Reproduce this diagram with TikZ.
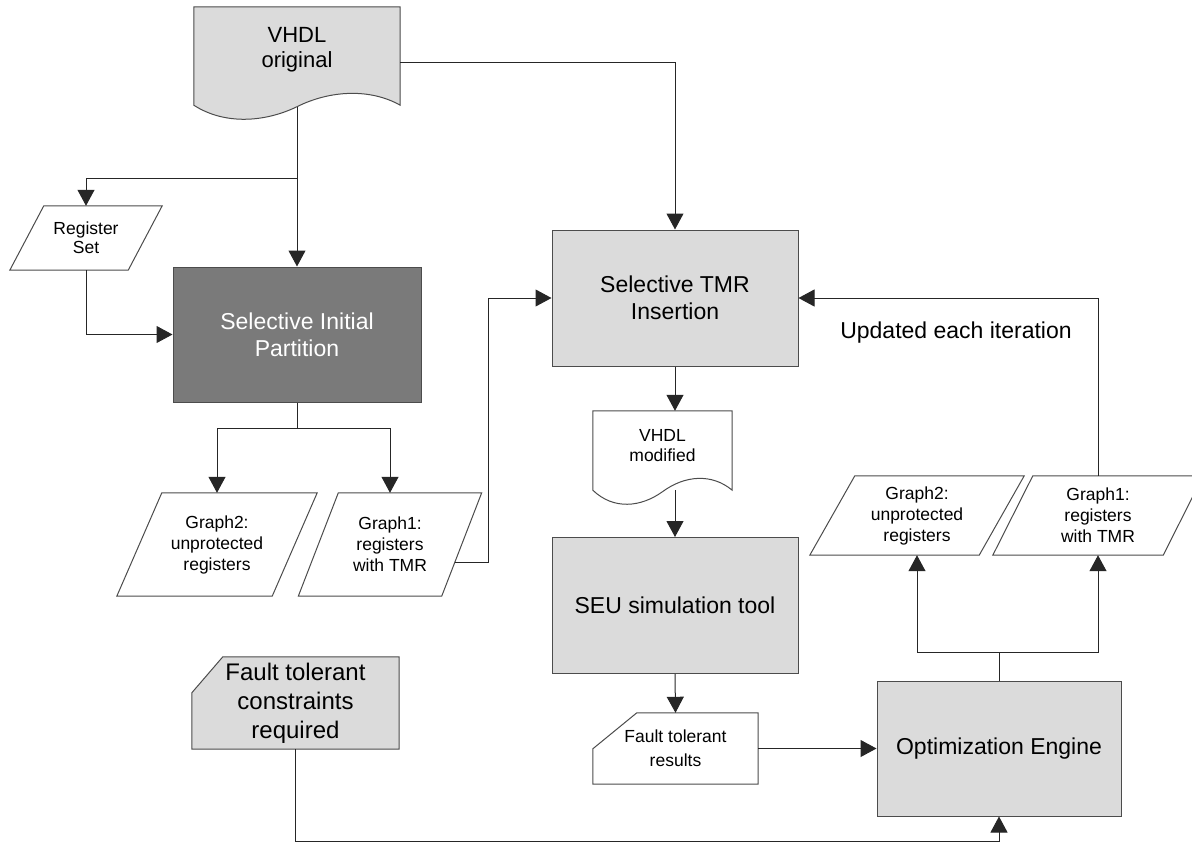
\documentclass[tikz,border=0pt]{standalone}
\usepackage{fontspec}
\setmainfont{Liberation Sans}
\usetikzlibrary{arrows.meta,positioning,calc,backgrounds}

% outline of a document symbol round the node #1, wavy edge #2 below it, fill #3
\newcommand{\docshape}[3]{%
  \draw[outline, fill=#3] let \p1=(#1.north west), \p2=(#1.south east), \n1={\x2-\x1} in
    (\p1) -- (\x2,\y1) -- (\x2,{\y2-#2})
    .. controls ({\x2-0.146*\n1},{\y2-#2+17pt}) and ({\x2-0.34*\n1},{\y2-#2+15pt}) .. ({\x1+0.5*\n1},{\y2-#2-1.5pt})
    .. controls ({\x1+0.345*\n1},{\y2-#2-17pt}) and ({\x1+0.15*\n1},{\y2-#2-20pt}) .. (\x1,{\y2-#2})
    -- cycle;}
% parallelogram in the box of node #1, slant #2
\newcommand{\ioshape}[2]{%
  \draw[outline, fill=white] (#1.south west) -- ([xshift=-#2]#1.south east) -- (#1.north east) -- ([xshift=#2]#1.north west) -- cycle;}
% card in the box of node #1, corner cut #2 wide and #3 high, fill #4
\newcommand{\cardshape}[4]{%
  \draw[outline, fill=#4] ([xshift=#2]#1.north west) -- (#1.north east) -- (#1.south east) -- (#1.south west) -- ([yshift=-#3]#1.north west) -- cycle;}

\begin{document}
\begin{tikzpicture}[x=1pt, y=-1pt,
  proc/.style={rectangle, draw=black!70, fill=black!14, line width=1pt, minimum width=246pt, minimum height=136pt, align=center, font={\fontsize{23}{27}\selectfont}},
  darkproc/.style={proc, fill=black!52, text=white},
  box/.style={rectangle, inner sep=0pt, align=center},
  data/.style={box, font={\fontsize{17.5}{21}\selectfont}},
  outline/.style={draw=black!70, line width=1pt},
  note/.style={font={\fontsize{23}{27}\selectfont}},
  arr/.style={-{Triangle[length=16pt, width=17pt]}, line width=1pt, draw=black!85}
]
  \useasboundingbox (0,0) rectangle (1192,844);
  % left column
  \node[box, minimum width=206pt, minimum height=86pt, font={\fontsize{22}{25}\selectfont}] (vo) at (297,50) {VHDL\\original};
  \node[data, minimum width=152pt, minimum height=64pt, font={\fontsize{17.5}{19}\selectfont}] (rs) at (86,238) {Register\\Set};
  \node[darkproc, minimum width=248pt, minimum height=135pt] (sip) at (297,334.5) {Selective Initial\\Partition};
  \node[data, minimum width=200pt, minimum height=103pt] (g2l) at (217,544.5) {Graph2:\\unprotected\\registers};
  \node[data, minimum width=183pt, minimum height=103pt] (g1l) at (390,544.5) {Graph1:\\registers\\with TMR};
  \node[box, minimum width=207pt, minimum height=92pt, font={\fontsize{24}{29}\selectfont}] (ftc) at (295.5,703) {Fault tolerant\\constraints\\required};
  % middle column
  \node[proc] (tmr) at (675,298) {Selective TMR\\Insertion};
  \node[box, minimum width=139pt, minimum height=70pt, font={\fontsize{17.5}{20}\selectfont}] (vm) at (662.5,446) {VHDL\\modified};
  \node[proc] (seu) at (675,605.5) {SEU simulation tool};
  \node[data, minimum width=165pt, minimum height=71pt, font={\fontsize{17.5}{24}\selectfont}] (ftr) at (675.5,748.5) {Fault tolerant\\results};
  % right column
  \node[proc, minimum width=244pt, minimum height=135pt] (oe) at (999,748.5) {Optimization Engine};
  \node[data, minimum width=214pt, minimum height=79pt] (g2r) at (917,515.5) {Graph2:\\unprotected\\registers};
  \node[data, minimum width=210pt, minimum height=79pt] (g1r) at (1098,515.5) {Graph1:\\registers\\with TMR};
  \node[note] (upd) at (956,333) {Updated each iteration};

  \begin{scope}[on background layer]
    \docshape{vo}{12pt}{black!14}
    \docshape{vm}{9pt}{white}
    \ioshape{rs}{34pt}
    \ioshape{g2l}{45pt}
    \ioshape{g1l}{40pt}
    \ioshape{g2r}{45pt}
    \ioshape{g1r}{40pt}
    \cardshape{ftc}{31pt}{36pt}{black!14}
    \cardshape{ftr}{44pt}{36pt}{white}
  \end{scope}

  % connectors
  \coordinate (split) at (vo.south |- 0,178);
  \draw[arr] ([yshift=-14pt]vo.south) -- (sip.north);
  \draw[arr] (split) -| (rs.north);
  \draw[arr] (rs.south) |- (sip.west);
  \draw[arr] ([yshift=-56pt]vo.north east) -| (tmr.north);
  \draw[arr] (sip.south) -- ++(0,26) -| (g2l.north);
  \draw[arr] (sip.south) -- ++(0,26) -| (g1l.north);
  \draw[arr] ($([xshift=-40pt]g1l.south east)!0.33!(g1l.north east)$) -- ++(34,0) |- (tmr.west);
  \draw[arr] (tmr.south) -- (tmr.south |- vm.north);
  \draw[arr] (tmr.south |- vm.south) ++(0,9) -- (seu.north);
  \draw[arr] (seu.south) -- (ftr.north);
  \draw[arr] (ftr.east) -- (oe.west);
  \draw[arr] (oe.north) -- ++(0,-28) -| (g2r.south);
  \draw[arr] (oe.north) -- ++(0,-28) -| (g1r.south);
  \draw[arr] (g1r.north) |- (tmr.east);
  \draw[arr] (ftc.south) -- ++(0,92) -| (oe.south);
\end{tikzpicture}
\end{document}
